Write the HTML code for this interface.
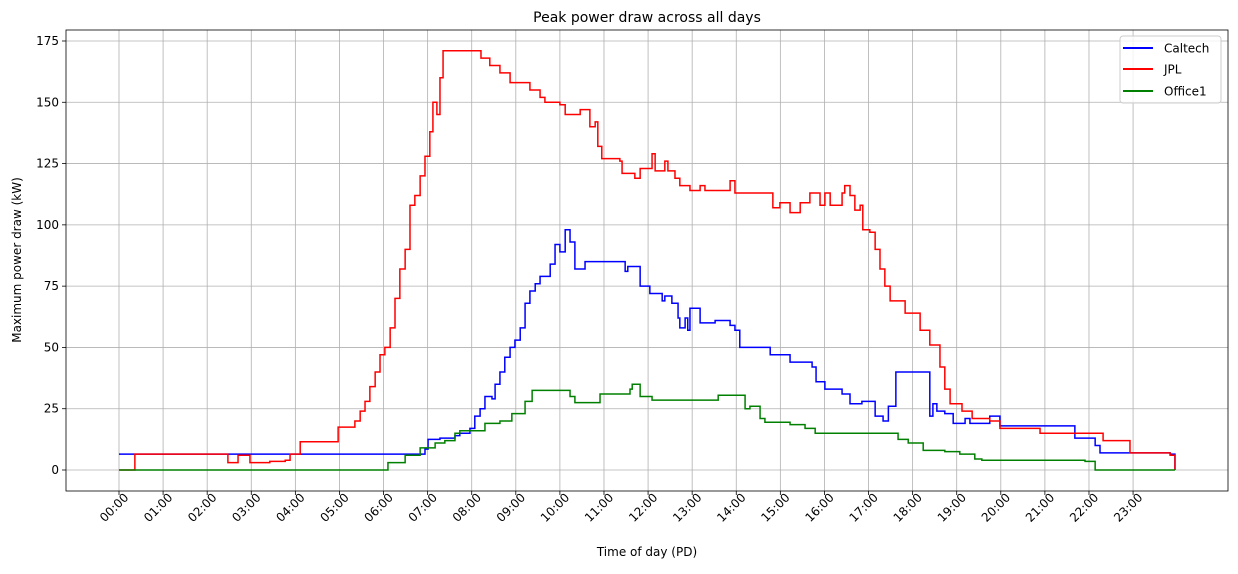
<!DOCTYPE html>
<html><head><meta charset="utf-8"><style>
body{margin:0;background:#fff;font-family:"Liberation Sans","DejaVu Sans",sans-serif}
svg text{font-family:"DejaVu Sans","Liberation Sans",sans-serif}
</style></head><body>
<svg id="chart" width="1238" height="569" xmlns="http://www.w3.org/2000/svg">
<g id="grid"></g><g id="series"></g><g id="axes"></g>
</svg>
<script>
const hourLabels=["00:00","01:00","02:00","03:00","04:00","05:00","06:00","07:00","08:00","09:00","10:00","11:00","12:00","13:00","14:00","15:00","16:00","17:00","18:00","19:00","20:00","21:00","22:00","23:00"];
const yTicks=[0,25,50,75,100,125,150,175];
const jplHours=[0,0.36,2.47,2.70,2.97,3.42,3.77,3.88,4.11,4.97,5.35,5.47,5.58,5.69,5.81,5.92,6.03,6.15,6.26,6.37,6.49,6.60,6.71,6.83,6.94,7.05,7.12,7.21,7.28,7.35,7.42,8.21,8.41,8.64,8.87,9.32,9.55,9.66,10.00,10.12,10.46,10.68,10.80,10.86,10.95,11.36,11.41,11.70,11.82,12.09,12.16,12.38,12.45,12.61,12.72,12.95,13.18,13.29,13.86,13.97,14.77,14.83,14.99,15.22,15.45,15.67,15.90,16.01,16.13,16.40,16.46,16.58,16.69,16.81,16.87,17.03,17.15,17.26,17.37,17.49,17.83,18.17,18.39,18.62,18.73,18.85,19.12,19.35,19.75,19.98,20.89,22.32,22.93,23.84,23.95];
const jplValues=[0,6.5,3,6,3,3.5,4,6.5,11.5,17.5,20,24,28,34,40,47,50,58,70,82,90,108,112,120,128,138,150,145,160,171,171,168,165,162,158,155,152,150,149,145,147,140,142,132,127,126,121,119,123,129,122,126,122,119,116,114,116,114,118,113,113,107,109,105,109,113,108,113,108,113,116,112,106,108,98,97,90,82,75,69,64,57,51,42,33,27,24,21,20,17,15,12,7,6,0];
const calHours=[0,6.71,6.94,7.01,7.28,7.62,7.73,7.96,8.07,8.19,8.30,8.46,8.53,8.64,8.75,8.87,8.98,9.10,9.21,9.32,9.44,9.55,9.78,9.89,10.00,10.12,10.23,10.34,10.57,11.48,11.54,11.82,12.04,12.32,12.38,12.54,12.68,12.72,12.84,12.90,12.95,13.18,13.52,13.86,13.97,14.08,14.77,15.22,15.72,15.81,16.01,16.40,16.58,16.85,17.15,17.33,17.45,17.62,18.39,18.46,18.55,18.73,18.92,19.19,19.30,19.75,19.98,21.68,22.14,22.25,23.84,23.95];
const calValues=[6.5,6.5,8.5,12.5,13,14,15,17,22,25,30,29,35,40,46,50,53,58,68,73,76,79,84,92,89,98,93,82,85,81,83,75,72,69,71,68,62,58,62,57,66,60,61,59,57,50,47,44,42,36,33,31,27,28,22,20,26,40,22,27,24,23,19,21,19,22,18,13,10,7,6.5,0];
const offHours=[0,6.03,6.10,6.49,6.83,7.17,7.39,7.62,7.73,8.30,8.64,8.91,9.21,9.37,10.23,10.34,10.91,11.59,11.64,11.82,12.09,13.59,14.20,14.31,14.54,14.65,15.22,15.56,15.79,17.67,17.90,18.24,18.73,19.07,19.41,19.57,21.91,22.14,23.95];
const offValues=[0,0,3,6,9,11,12,15,16,19,20,23,28,32.5,30,27.5,31,33,35,30,28.5,30.5,25,26,21,19.5,18.5,17,15,12.5,11,8,7.5,6.5,4.5,4,3.5,0,0];
const NS="http://www.w3.org/2000/svg";
const L=66,R=1228,T=30,B=491;
const xs=h=>119+h*44.09;
const ys=v=>470-v*(429/175);
function mk(tag,attrs,parent){const e=document.createElementNS(NS,tag);for(const k in attrs)e.setAttribute(k,attrs[k]);parent.appendChild(e);return e;}
const grid=document.getElementById('grid'),axes=document.getElementById('axes'),ser=document.getElementById('series');
hourLabels.forEach((lab,i)=>{
  const x=xs(i);
  const g=mk('line',{x1:x,x2:x,y1:T,y2:B,stroke:'#b0b0b0','stroke-width':0.8},grid);
  
  
  mk('line',{x1:x,x2:x,y1:B,y2:B+4,stroke:'#000','stroke-width':0.8},axes);
  const t=mk('text',{x:x+4,y:B+1,'font-size':12,'text-anchor':'end',transform:`rotate(-45 ${x+4} ${B+1})`,'dominant-baseline':'hanging'},axes);
  t.textContent=lab;
  
  
});
yTicks.forEach(v=>{
  const y=ys(v);
  const g=mk('line',{x1:L,x2:R,y1:y,y2:y,stroke:'#b0b0b0','stroke-width':0.8},grid);
  
  
  mk('line',{x1:L-4,x2:L,y1:y,y2:y,stroke:'#000','stroke-width':0.8},axes);
  const t=mk('text',{x:L-7,y:y+4,'font-size':12,'text-anchor':'end'},axes);
  t.textContent=v;
  
  
});
function step(hs,vs,color,name){
  let d='M'+xs(hs[0])+','+ys(vs[0]);
  for(let i=1;i<hs.length;i++){d+=' H'+xs(hs[i])+' V'+ys(vs[i]);}
  const p=mk('path',{d:d,fill:'none',stroke:color,'stroke-width':1.5},ser);
  
  
}
step(calHours,calValues,'#0000ff','caltech-line');
step(jplHours,jplValues,'#ff0000','jpl-line');
step(offHours,offValues,'#008000','office1-line');
const frame=mk('rect',{x:L,y:T,width:R-L,height:B-T,fill:'none',stroke:'#000','stroke-width':0.8},axes);


const title=mk('text',{x:647,y:22,'font-size':14,'text-anchor':'middle'},axes);
title.textContent='Peak power draw across all days';


const xt=mk('text',{x:647,y:556,'font-size':12,'text-anchor':'middle'},axes);
xt.textContent='Time of day (PD)';


const yt=mk('text',{x:21,y:260,'font-size':12,'text-anchor':'middle',transform:'rotate(-90 21 260)'},axes);
yt.textContent='Maximum power draw (kW)';


const lg=mk('g',{},axes);


mk('rect',{x:1120,y:36,width:101,height:67,rx:3,fill:'#fff','fill-opacity':0.8,stroke:'#ccc'},lg);
[['Caltech','#0000ff',48],['JPL','#ff0000',69],['Office1','#008000',91]].forEach(([n,c,y])=>{
  const e=mk('g',{},lg);
  
  
  mk('line',{x1:1123,x2:1153,y1:y,y2:y,stroke:c,'stroke-width':2},e);
  const t=mk('text',{x:1164,y:y+4.5,'font-size':12},e);
  t.textContent=n;
});
</script>
</body></html>
